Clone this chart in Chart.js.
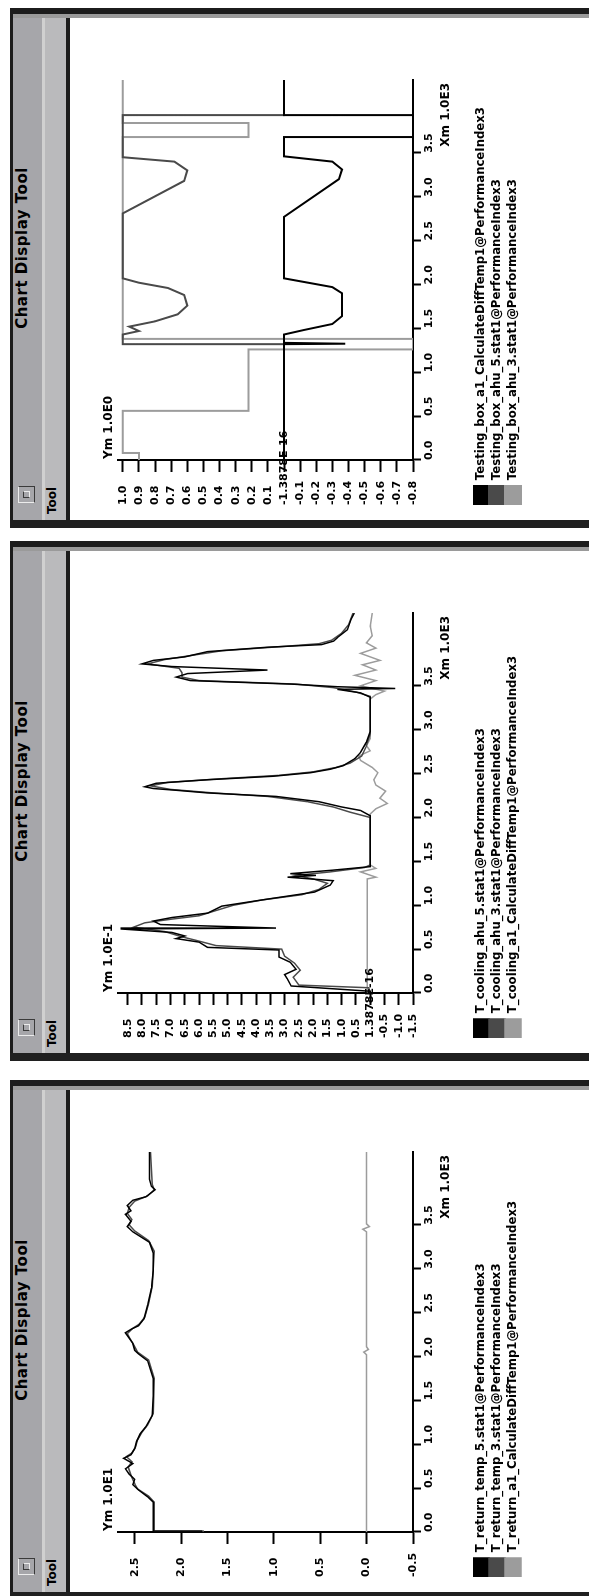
<!DOCTYPE html>
<html>
<head>
<meta charset="utf-8">
<title>Chart Display Tool</title>
<script src="https://cdn.jsdelivr.net/npm/chart.js@4.4.1/dist/chart.umd.min.js"></script>
<style>
  html, body { margin: 0; padding: 0; background: #fff; }
  body { width: 589px; height: 1596px; position: relative; overflow: hidden; font-family: "DejaVu Sans", sans-serif; }
  /* each tool window is laid out upright and turned a quarter turn */
  .win { position: absolute; left: 10px; width: 520px; height: 590px; background: #fff; transform-origin: 0 0; transform: rotate(-90deg); }
  .win > div { position: absolute; }
  .frame-top { left: 0; top: 0; width: 520px; height: 3px; background: #1c1c1c; }
  .titlebar { left: 0; top: 3px; width: 520px; height: 29px; background: #a6a6aa; }
  .sep { left: 0; top: 32px; width: 520px; height: 3px; background: #d0d0d0; }
  .menubar { left: 0; top: 35px; width: 520px; height: 21px; background: #bababc; }
  .menu-rule { left: 0; top: 56px; width: 520px; height: 4px; background: #1c1c1c; }
  .frame-left { left: 0; top: 0; width: 8px; height: 590px; background: #202020; }
  .frame-right { left: 514px; top: 0; width: 6px; height: 590px; background: #1c1c1c; }
  .frame-right2 { left: 510px; top: 3px; width: 4px; height: 587px; background: #9a9a9a; }
  .title { left: 30px; top: 3px; width: 500px; height: 29px; line-height: 29px; text-align: center; font: bold 15px "DejaVu Sans"; letter-spacing: 0.5px; color: #000; }
  .winbtn { left: 25px; top: 8px; width: 15px; height: 15px; border: 1px solid; border-color: #ececec #3a3a3a #3a3a3a #ececec; background: #a6a6aa; }
  .winbtn::after { content: ""; position: absolute; left: 4px; top: 4px; width: 5px; height: 5px; border: 1px solid; border-color: #3a3a3a #ececec #ececec #3a3a3a; }
  .menu { left: 14px; top: 35px; height: 21px; line-height: 21px; font: bold 12px "DejaVu Sans"; color: #000; }
  .win canvas { position: absolute; left: 10px; top: 60px; }
</style>
</head>
<body>

<div class="win" style="top:528px">
  <div class="titlebar"></div><div class="sep"></div><div class="menubar"></div><div class="menu-rule"></div>
  <div class="frame-top"></div><div class="frame-left"></div><div class="frame-right2"></div><div class="frame-right"></div>
  <div class="winbtn"></div><div class="title">Chart Display Tool</div><div class="menu">Tool</div>
  <canvas id="boxChart" width="500" height="530"></canvas>
</div>

<div class="win" style="top:1061px">
  <div class="titlebar"></div><div class="sep"></div><div class="menubar"></div><div class="menu-rule"></div>
  <div class="frame-top"></div><div class="frame-left"></div><div class="frame-right2"></div><div class="frame-right"></div>
  <div class="winbtn"></div><div class="title">Chart Display Tool</div><div class="menu">Tool</div>
  <canvas id="coolChart" width="500" height="530"></canvas>
</div>

<div class="win" style="top:1600px">
  <div class="titlebar"></div><div class="sep"></div><div class="menubar"></div><div class="menu-rule"></div>
  <div class="frame-top"></div><div class="frame-left"></div><div class="frame-right2"></div><div class="frame-right"></div>
  <div class="winbtn"></div><div class="title">Chart Display Tool</div><div class="menu">Tool</div>
  <canvas id="returnChart" width="500" height="530"></canvas>
</div>

<script>
// ---- shared time axis (thousands of samples) ----
const timeTicks = [0, 0.5, 1.0, 1.5, 2.0, 2.5, 3.0, 3.5];
const timeTickLabels = ['0.0', '0.5', '1.0', '1.5', '2.0', '2.5', '3.0', '3.5'];
const TIME_MAX = 4.33;
const seriesColors = ['#000000', '#4a4a4a', '#9c9c9c'];

// ---- Testing box ----
const boxLabels = [
  'Testing_box_a1_CalculateDiffTemp1@PerformanceIndex3',
  'Testing_box_ahu_5.stat1@PerformanceIndex3',
  'Testing_box_ahu_3.stat1@PerformanceIndex3'
];
const boxDiff = [[0,0],[1.32,0],[1.325,-0.38],[1.335,0],[1.43,0],[1.48,-0.12],[1.55,-0.3],[1.64,-0.36],
  [1.9,-0.36],[1.97,-0.3],[2.02,-0.15],[2.07,0],[2.77,0],[3.2,-0.34],[3.31,-0.36],[3.4,-0.3],[3.46,0],
  [3.68,0],[3.68,-0.8],[3.93,-0.8],[3.93,0],[4.33,0]];
const boxAhu5 = [[1.32,0],[1.32,1.0],[1.43,1.0],[1.47,0.9],[1.52,0.96],[1.58,0.8],[1.66,0.66],[1.76,0.6],
  [1.88,0.62],[1.96,0.72],[2.02,0.9],[2.07,1.0],[2.81,1.0],[3.18,0.62],[3.3,0.6],[3.4,0.68],[3.45,1.0],
  [3.93,1.0],[3.93,0],[4.0,0]];
const boxAhu3 = [[0,0.9],[0.08,0.9],[0.08,1.0],[0.56,1.0],[0.56,0.22],[1.26,0.22],[1.26,-0.8],[1.38,-0.8],
  [1.38,1.0],[3.68,1.0],[3.68,0.22],[3.84,0.22],[3.84,1.0],[4.33,1.0]];
const boxTicks = [-0.8,-0.7,-0.6,-0.5,-0.4,-0.3,-0.2,-0.1,0,0.1,0.2,0.3,0.4,0.5,0.6,0.7,0.8,0.9,1.0];
const boxTickLabels = ['-0.8','-0.7','-0.6','-0.5','-0.4','-0.3','-0.2','-0.1','-1.3878E-16',
  '0.1','0.2','0.3','0.4','0.5','0.6','0.7','0.8','0.9','1.0'];

// ---- T_cooling ----
const coolLabels = [
  'T_cooling_ahu_5.stat1@PerformanceIndex3',
  'T_cooling_ahu_3.stat1@PerformanceIndex3',
  'T_cooling_a1_CalculateDiffTemp1@PerformanceIndex3'
];
const coolAhu5 = [[0,0],[0.02,0],[0.08,2.77],[0.16,2.9],[0.21,3.0],[0.27,2.6],[0.35,2.8],[0.41,3.2],[0.49,3.2],
  [0.52,5.7],[0.58,6.0],[0.62,6.8],[0.65,6.5],[0.69,6.95],[0.73,8.75],[0.74,3.3],[0.78,7.35],[0.82,7.6],
  [0.86,6.95],[0.91,5.7],[0.99,5.2],[1.07,3.6],[1.15,1.95],[1.23,1.4],[1.28,1.3],[1.32,2.9],[1.34,1.9],
  [1.36,2.8],[1.4,1.3],[1.44,0],[2.02,0],[2.08,0.34],[2.12,1.0],[2.18,1.8],[2.24,3.3],[2.28,5.7],[2.31,6.8],
  [2.33,7.6],[2.35,7.9],[2.39,7.5],[2.43,5.7],[2.47,3.4],[2.51,2.1],[2.55,1.4],[2.59,0.95],[2.67,0.54],
  [2.74,0.34],[2.86,0.13],[2.98,0],[3.37,0],[3.42,0.34],[3.46,1.15],[3.47,-0.88],[3.49,1.15],[3.52,2.77],
  [3.56,6.3],[3.6,6.8],[3.64,6.4],[3.68,3.6],[3.72,6.95],[3.75,8.0],[3.79,7.6],[3.83,6.5],[3.89,5.7],
  [3.94,3.6],[3.97,1.7],[4.01,1.28],[4.05,1.15],[4.14,0.8],[4.26,0.67],[4.33,0.56]];
const coolAhu3 = [[0,0],[0.06,0.05],[0.09,2.5],[0.18,2.7],[0.26,2.45],[0.34,2.65],[0.42,3.0],[0.5,3.1],
  [0.54,5.4],[0.6,6.1],[0.64,6.6],[0.7,7.2],[0.75,8.3],[0.8,7.9],[0.84,7.0],[0.88,6.0],[0.94,5.4],[1.0,4.8],
  [1.06,3.8],[1.12,2.4],[1.18,1.8],[1.25,1.5],[1.3,2.0],[1.34,2.6],[1.38,1.4],[1.43,0.2],[1.46,0],[2.0,0],
  [2.06,0.7],[2.12,1.3],[2.18,2.2],[2.24,3.6],[2.28,5.5],[2.32,7.0],[2.36,7.7],[2.4,7.1],[2.44,5.3],
  [2.48,3.2],[2.52,2.0],[2.57,1.2],[2.62,0.7],[2.7,0.3],[2.8,0.15],[2.95,0],[3.38,0],[3.43,0.5],[3.48,1.3],
  [3.52,2.6],[3.56,6.0],[3.6,6.6],[3.65,6.6],[3.7,6.7],[3.75,7.8],[3.8,7.2],[3.85,6.2],[3.9,5.2],[3.95,3.0],
  [3.98,1.8],[4.02,1.35],[4.1,1.0],[4.2,0.75],[4.33,0.6]];
const coolDiff = [[0,0.1],[1.3,0.1],[1.32,-0.2],[1.38,0.34],[1.42,-0.2],[1.46,0],[2.04,0],[2.1,-0.2],[2.16,-0.6],
  [2.22,-0.34],[2.3,-0.54],[2.37,-0.2],[2.43,-0.13],[2.51,-0.27],[2.57,-0.07],[2.65,0.34],[2.7,0.4],[2.76,0],
  [2.82,0.13],[2.9,0],[3.35,0],[3.4,-0.2],[3.44,-0.5],[3.5,0.34],[3.56,-0.2],[3.62,0.54],[3.68,-0.2],
  [3.74,0.27],[3.79,-0.34],[3.87,0.34],[3.93,-0.2],[3.99,0.13],[4.07,-0.07],[4.18,0],[4.33,-0.07]];
const coolTicks = [-1.5,-1.0,-0.5,0,0.5,1.0,1.5,2.0,2.5,3.0,3.5,4.0,4.5,5.0,5.5,6.0,6.5,7.0,7.5,8.0,8.5];
const coolTickLabels = ['-1.5','-1.0','-0.5','1.3878E-16','0.5','1.0','1.5','2.0','2.5','3.0','3.5',
  '4.0','4.5','5.0','5.5','6.0','6.5','7.0','7.5','8.0','8.5'];

// ---- T_return ----
const returnLabels = [
  'T_return_temp_5.stat1@PerformanceIndex3',
  'T_return_temp_3.stat1@PerformanceIndex3',
  'T_return_a1_CalculateDiffTemp1@PerformanceIndex3'
];
const returnTemp5 = [[0,1.78],[0.01,2.3],[0.34,2.3],[0.4,2.36],[0.48,2.46],[0.54,2.52],[0.6,2.5],[0.66,2.56],
  [0.72,2.6],[0.78,2.52],[0.84,2.62],[0.88,2.54],[0.95,2.5],[1.03,2.48],[1.12,2.44],[1.2,2.38],[1.33,2.31],
  [1.55,2.3],[1.75,2.3],[1.95,2.36],[2.03,2.46],[2.07,2.5],[2.15,2.52],[2.21,2.56],[2.27,2.6],[2.31,2.54],
  [2.35,2.46],[2.43,2.4],[2.59,2.36],[2.78,2.32],[2.98,2.3],[3.18,2.3],[3.3,2.34],[3.42,2.52],[3.48,2.58],
  [3.54,2.54],[3.62,2.6],[3.66,2.54],[3.72,2.58],[3.78,2.52],[3.82,2.38],[3.9,2.28],[3.94,2.32],[4.02,2.34],
  [4.33,2.34]];
const returnTemp3 = [[0,1.76],[0.01,2.29],[0.34,2.29],[0.41,2.35],[0.49,2.47],[0.55,2.5],[0.62,2.53],
  [0.68,2.55],[0.74,2.57],[0.8,2.53],[0.86,2.59],[0.9,2.53],[0.97,2.49],[1.05,2.47],[1.14,2.42],[1.22,2.36],
  [1.35,2.3],[1.75,2.29],[1.96,2.35],[2.05,2.47],[2.13,2.51],[2.2,2.55],[2.26,2.58],[2.32,2.52],[2.37,2.45],
  [2.45,2.39],[2.6,2.35],[2.8,2.31],[3.2,2.29],[3.32,2.35],[3.43,2.5],[3.5,2.56],[3.56,2.53],[3.63,2.58],
  [3.7,2.56],[3.77,2.5],[3.83,2.36],[3.9,2.29],[3.96,2.31],[4.33,2.33]];
const returnDiff = [[0,0],[2.02,0],[2.05,0.03],[2.08,-0.02],[2.11,0],[3.42,0],[3.45,0.04],[3.48,-0.03],
  [3.51,0],[4.33,0]];
const returnTicks = [-0.5, 0, 0.5, 1.0, 1.5, 2.0, 2.5];
const returnTickLabels = ['-0.5', '0.0', '0.5', '1.0', '1.5', '2.0', '2.5'];

Chart.defaults.color = '#000';
Chart.defaults.font.family = '"DejaVu Sans", sans-serif';
Chart.defaults.font.weight = 'bold';

const TICK_FONT = 'bold 11px "DejaVu Sans"';

// axis unit notes, plus the zero tick label, which runs past the axis line
const unitNote = {
  id: 'unitNote',
  afterDraw(chart, args, opts) {
    const {ctx, chartArea} = chart;
    const yScale = chart.scales.y;
    ctx.save();
    ctx.font = 'bold 12px "DejaVu Sans"';
    ctx.fillStyle = '#000';
    ctx.textBaseline = 'alphabetic';
    ctx.textAlign = 'left';
    ctx.fillText(opts.yText, chartArea.left + 1, chartArea.top - 6);
    ctx.textAlign = 'right';
    ctx.fillText(opts.xText, chartArea.right - 3, chartArea.bottom + 36);
    if (opts.zeroText) {
      ctx.font = TICK_FONT;
      ctx.textAlign = 'left';
      ctx.textBaseline = 'middle';
      ctx.fillText(opts.zeroText, yScale.left, yScale.getPixelForValue(0));
    }
    ctx.restore();
  }
};

function labelFor(ticks, labels, skipLong) {
  return value => {
    const k = ticks.findIndex(t => Math.abs(t - value) < 1e-9);
    if (k < 0) return '';
    return (skipLong && labels[k].length > 5) ? '' : labels[k];
  };
}

function buildPanel(id, cfg) {
  const tickFont = {family: '"DejaVu Sans"', size: 11, weight: 'bold'};
  const zeroIdx = cfg.ticks.findIndex(t => Math.abs(t) < 1e-9);
  const zeroText = cfg.tickLabels[zeroIdx].length > 5 ? cfg.tickLabels[zeroIdx] : '';
  return new Chart(document.getElementById(id), {
    type: 'line',
    data: {
      datasets: cfg.series.map((s, i) => ({
        label: cfg.labels[i],
        data: s.map(([x, y]) => ({x, y})),
        borderColor: seriesColors[i],
        backgroundColor: seriesColors[i],
        borderWidth: cfg.lineWidth,
        pointRadius: 0,
        tension: 0,
        fill: false
      }))
    },
    options: {
      responsive: false,
      animation: false,
      devicePixelRatio: 1,
      layout: {padding: {left: 13, right: 62, top: 48, bottom: 69}},
      scales: {
        x: {
          type: 'linear', min: 0, max: TIME_MAX,
          afterBuildTicks: s => { s.ticks = timeTicks.map(v => ({value: v})); },
          afterFit: s => { s.height = 60; },
          ticks: {align: 'start', maxRotation: 0, autoSkip: false, padding: 2, font: tickFont,
                  callback: labelFor(timeTicks, timeTickLabels, false)},
          grid: {drawOnChartArea: false, drawTicks: true, tickLength: 8, tickWidth: 2, tickColor: '#000'},
          border: {display: true, color: '#000', width: 2}
        },
        y: {
          type: 'linear', min: cfg.min, max: cfg.max,
          afterBuildTicks: s => { s.ticks = cfg.ticks.map(v => ({value: v})); },
          afterFit: s => { s.width = 45; },
          ticks: {crossAlign: 'far', autoSkip: false, font: tickFont,
                  callback: labelFor(cfg.ticks, cfg.tickLabels, true)},
          grid: {drawOnChartArea: false, drawTicks: true, tickLength: 12, tickWidth: 2, tickColor: '#000'},
          border: {display: true, color: '#000', width: 2}
        }
      },
      plugins: {
        legend: {
          position: 'bottom', align: 'start',
          labels: {boxWidth: 19, boxHeight: 16, padding: 0, color: '#000',
                   font: {family: '"DejaVu Sans"', size: 11.7, weight: 'bold'}}
        },
        tooltip: {enabled: false},
        unitNote: {yText: cfg.unit, xText: 'Xm 1.0E3', zeroText}
      }
    },
    plugins: [unitNote]
  });
}

buildPanel('boxChart', {
  labels: boxLabels, series: [boxDiff, boxAhu5, boxAhu3], lineWidth: 2,
  min: -0.8, max: 1.03, ticks: boxTicks, tickLabels: boxTickLabels, unit: 'Ym 1.0E0'
});
buildPanel('coolChart', {
  labels: coolLabels, series: [coolAhu5, coolAhu3, coolDiff], lineWidth: 1.5,
  min: -1.5, max: 8.84, ticks: coolTicks, tickLabels: coolTickLabels, unit: 'Ym 1.0E-1'
});
buildPanel('returnChart', {
  labels: returnLabels, series: [returnTemp5, returnTemp3, returnDiff], lineWidth: 1.5,
  min: -0.5, max: 2.68, ticks: returnTicks, tickLabels: returnTickLabels, unit: 'Ym 1.0E1'
});
</script>
</body>
</html>
